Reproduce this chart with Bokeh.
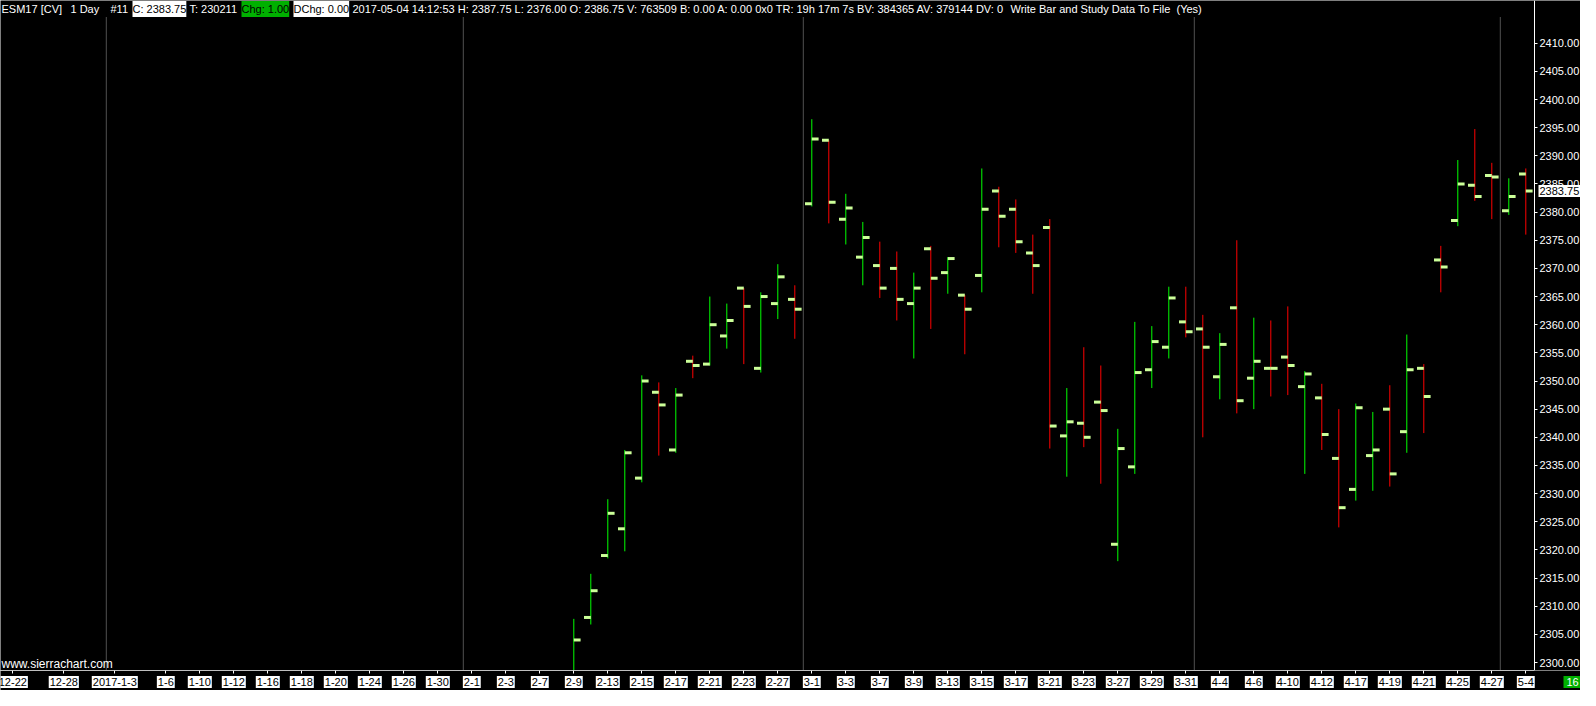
from bokeh.plotting import figure
from bokeh.layouts import column
from bokeh.models import (Range1d, FixedTicker, Label, ColumnDataSource,
                          PrintfTickFormatter, LinearAxis)
from bokeh.embed import file_html
from bokeh.resources import INLINE

# ---- data ---------------------------------------------------------------
sessions = [
    "2016-12-22", "2016-12-23", "2016-12-27", "2016-12-28", "2016-12-29", "2016-12-30",
    "2017-01-03", "2017-01-04", "2017-01-05", "2017-01-06", "2017-01-09", "2017-01-10",
    "2017-01-11", "2017-01-12", "2017-01-13", "2017-01-16", "2017-01-17", "2017-01-18",
    "2017-01-19", "2017-01-20", "2017-01-23", "2017-01-24", "2017-01-25", "2017-01-26",
    "2017-01-27", "2017-01-30", "2017-01-31",
    "2017-02-01", "2017-02-02", "2017-02-03", "2017-02-06", "2017-02-07", "2017-02-08",
    "2017-02-09", "2017-02-10", "2017-02-13", "2017-02-14", "2017-02-15", "2017-02-16",
    "2017-02-17", "2017-02-20", "2017-02-21", "2017-02-22", "2017-02-23", "2017-02-24",
    "2017-02-27", "2017-02-28",
    "2017-03-01", "2017-03-02", "2017-03-03", "2017-03-06", "2017-03-07", "2017-03-08",
    "2017-03-09", "2017-03-10", "2017-03-13", "2017-03-14", "2017-03-15", "2017-03-16",
    "2017-03-17", "2017-03-20", "2017-03-21", "2017-03-22", "2017-03-23", "2017-03-24",
    "2017-03-27", "2017-03-28", "2017-03-29", "2017-03-30", "2017-03-31",
    "2017-04-03", "2017-04-04", "2017-04-05", "2017-04-06", "2017-04-07", "2017-04-10",
    "2017-04-11", "2017-04-12", "2017-04-13", "2017-04-17", "2017-04-18", "2017-04-19",
    "2017-04-20", "2017-04-21", "2017-04-24", "2017-04-25", "2017-04-26", "2017-04-27",
    "2017-05-03", "2017-05-04",
]
first_bar = "2017-02-09"

opens = [2295.0, 2308.0, 2319.0, 2323.75, 2332.75, 2348.0, 2337.75, 2353.5, 2353.0, 2358.0,
         2366.5, 2352.25, 2363.75, 2364.5,
         2381.5, 2392.75, 2378.75, 2372.0, 2370.5, 2370.0, 2363.75, 2373.5, 2369.25, 2365.25,
         2368.75, 2383.75, 2380.5, 2372.75, 2377.25, 2340.25, 2342.5, 2346.25, 2321.0, 2334.75,
         2352.0, 2356.0, 2360.5,
         2359.25, 2350.75, 2363.0, 2350.5, 2352.25, 2354.25, 2349.0, 2347.0, 2336.25, 2330.75,
         2336.75, 2345.0, 2341.0, 2352.25, 2371.5, 2378.5, 2384.75, 2386.5,
         2380.25, 2386.75]
highs = [2307.75, 2315.75, 2329.0, 2337.75, 2351.0, 2349.75, 2348.75, 2354.5, 2365.0, 2363.75,
         2366.5, 2365.75, 2370.75, 2367.0,
         2396.5, 2392.75, 2383.25, 2378.25, 2374.75, 2373.0, 2369.25, 2374.0, 2372.0, 2365.25,
         2387.75, 2384.5, 2382.25, 2376.0, 2378.75, 2348.75, 2356.0, 2352.75, 2341.5, 2360.5,
         2359.75, 2366.75, 2366.75,
         2361.75, 2358.5, 2375.0, 2361.25, 2360.75, 2363.25, 2351.75, 2349.5, 2345.0, 2346.0,
         2344.5, 2349.25, 2358.25, 2353.0, 2374.0, 2389.25, 2394.75, 2388.75,
         2386.0, 2387.75]
lows = [2293.0, 2306.75, 2318.5, 2319.75, 2332.0, 2336.75, 2337.25, 2350.5, 2352.75, 2355.75,
        2353.0, 2351.5, 2361.0, 2357.5,
        2381.0, 2378.0, 2374.25, 2367.0, 2364.75, 2360.75, 2354.0, 2359.25, 2365.5, 2354.75,
        2365.75, 2373.75, 2372.75, 2365.5, 2338.0, 2333.0, 2338.25, 2331.75, 2318.0, 2333.5,
        2348.75, 2354.0, 2357.75,
        2340.0, 2346.75, 2344.25, 2345.0, 2347.25, 2347.5, 2333.5, 2337.75, 2324.0, 2328.75,
        2330.5, 2331.25, 2337.25, 2340.75, 2365.75, 2377.5, 2382.0, 2378.75,
        2379.5, 2376.0]
closes = [2304.0, 2312.75, 2326.5, 2337.25, 2350.0, 2345.75, 2347.5, 2352.75, 2360.0, 2360.75,
          2363.25, 2365.0, 2368.5, 2362.75,
          2393.0, 2381.75, 2380.75, 2375.5, 2366.5, 2364.5, 2366.5, 2368.25, 2371.75, 2362.75,
          2380.5, 2379.25, 2374.75, 2370.5, 2342.0, 2342.75, 2340.0, 2344.75, 2338.0, 2351.5,
          2357.0, 2364.75, 2358.75,
          2356.0, 2356.5, 2346.5, 2353.5, 2352.25, 2352.75, 2351.25, 2340.5, 2327.5, 2345.25,
          2337.75, 2333.5, 2352.0, 2347.25, 2370.25, 2385.0, 2382.75, 2386.25,
          2382.75, 2383.75]

label_dates = ["2016-12-22", "2016-12-28", "2017-01-03", "2017-01-06", "2017-01-10", "2017-01-12",
               "2017-01-16", "2017-01-18", "2017-01-20", "2017-01-24", "2017-01-26", "2017-01-30",
               "2017-02-01", "2017-02-03", "2017-02-07", "2017-02-09", "2017-02-13", "2017-02-15",
               "2017-02-17", "2017-02-21", "2017-02-23", "2017-02-27", "2017-03-01", "2017-03-03",
               "2017-03-07", "2017-03-09", "2017-03-13", "2017-03-15", "2017-03-17", "2017-03-21",
               "2017-03-23", "2017-03-27", "2017-03-29", "2017-03-31", "2017-04-04", "2017-04-06",
               "2017-04-10", "2017-04-12", "2017-04-17", "2017-04-19", "2017-04-21", "2017-04-25",
               "2017-04-27", "2017-05-04"]
label_texts = ["12-22", "12-28", "2017-1-3", "1-6", "1-10", "1-12", "1-16", "1-18", "1-20", "1-24",
               "1-26", "1-30", "2-1", "2-3", "2-7", "2-9", "2-13", "2-15", "2-17", "2-21", "2-23",
               "2-27", "3-1", "3-3", "3-7", "3-9", "3-13", "3-15", "3-17", "3-21", "3-23", "3-27",
               "3-29", "3-31", "4-4", "4-6", "4-10", "4-12", "4-17", "4-19", "4-21", "4-25", "4-27",
               "5-4"]

price_ticks = [2300, 2305, 2310, 2315, 2320, 2325, 2330, 2335, 2340, 2345, 2350, 2355,
               2360, 2365, 2370, 2375, 2380, 2385, 2390, 2395, 2400, 2405, 2410]

header_parts = [
    ("ESM17 [CV]", 1, "white", None),
    ("1 Day", 70, "white", None),
    ("#11", 110, "white", None),
    ("C: 2383.75", 132, "black", "white"),
    ("T: 230211", 189, "white", None),
    ("Chg: 1.00", 241, "black", "#00b000"),
    ("DChg: 0.00", 293, "black", "white"),
    ("2017-05-04 14:12:53 H: 2387.75 L: 2376.00 O: 2386.75 V: 763509 B: 0.00 A: 0.00 0x0 "
     "TR: 19h 17m 7s BV: 384365 AV: 379144 DV: 0", 352, "white", None),
    ("Write Bar and Study Data To File", 1010, "white", None),
    ("(Yes)", 1176, "white", None),
]
bar_count_text = "16"
site_text = "www.sierrachart.com"

# ---- view / layout settings (pixels) -------------------------------------
FONT = "Liberation Sans"
W = 1580
MAIN_H, STRIP_H, HEAD = 670, 20, 17
CHART_W = 1534                 # price scale line position
PX_BAR, PX_PT = 17.0, 5.63     # horizontal / vertical scale
FIRST_SLOT_PX = 12.3           # position of the first slot centre
TOP_PRICE, TOP_PRICE_PX = 2410.0, 42.7
TICK_COL = "#ccff99"

cx0 = -FIRST_SLOT_PX / PX_BAR
cx1 = cx0 + CHART_W / PX_BAR
x_end = cx0 + W / PX_BAR
y_end = TOP_PRICE + TOP_PRICE_PX / PX_PT
cy0 = y_end - MAIN_H / PX_PT
cy1 = y_end - HEAD / PX_PT

xr = Range1d(cx0, x_end)

p = figure(frame_width=W, frame_height=MAIN_H,
           x_range=xr, y_range=Range1d(cy0, y_end),
           output_backend="svg", toolbar_location=None,
           x_axis_location=None, y_axis_location=None,
           background_fill_color="black", border_fill_color="black",
           min_border=0, outline_line_color=None)
p.grid.visible = False

# price scale at the right edge of the chart
ya = LinearAxis(fixed_location=cx1, bounds=(cy0, y_end),
                ticker=FixedTicker(ticks=price_ticks),
                formatter=PrintfTickFormatter(format="%.2f"))
ya.axis_line_color = "white"
ya.major_tick_line_color = "white"
ya.major_tick_out = 3
ya.major_tick_in = 0
ya.minor_tick_line_color = None
ya.major_label_standoff = 2
ya.major_label_text_color = "white"
ya.major_label_text_font = FONT
ya.major_label_text_font_size = "11px"
p.add_layout(ya, "right")

idx_of = {d: i for i, d in enumerate(sessions)}

# month separators (dotted)
sep_x = [i - 0.5 for i in range(1, len(sessions)) if sessions[i][:7] != sessions[i - 1][:7]]
p.segment(x0=sep_x, y0=[cy0] * len(sep_x), x1=sep_x, y1=[cy1] * len(sep_x),
          line_color="#a0a0a0", line_dash="1 1", line_width=1)

# OHLC bars
start = idx_of[first_bar]
xs = list(range(start, start + len(opens)))
colors = ["#00ff00" if c > o else "#ff0000" for o, c in zip(opens, closes)]
src = ColumnDataSource(dict(x=xs, xl=[x - 0.4 for x in xs], xr=[x + 0.4 for x in xs],
                            o=opens, h=highs, l=lows, c=closes, col=colors))
p.segment(x0="x", y0="l", x1="x", y1="h", line_color="col", line_width=1, source=src)
p.segment(x0="xl", y0="o", x1="x", y1="o", line_color=TICK_COL, line_width=3,
          line_cap="butt", source=src)
p.segment(x0="x", y0="c", x1="xr", y1="c", line_color=TICK_COL, line_width=3,
          line_cap="butt", source=src)

# last price marker on the price scale
p.add_layout(Label(x=cx1, x_offset=4, y=closes[-1], x_units="data", y_units="data",
                   text="%.2f" % closes[-1], text_color="black", text_font=FONT,
                   text_font_size="11px", text_align="left", text_baseline="middle",
                   background_fill_color="white", padding=(1, 2)))

# header line
for text, x, col, bg in header_parts:
    p.add_layout(Label(x=x, y=MAIN_H - 8.5, x_units="screen", y_units="screen", text=text,
                       text_color=col, text_font=FONT, text_font_size="11px",
                       text_align="left", text_baseline="middle",
                       background_fill_color=bg, padding=(0, 2)))

# watermark
p.add_layout(Label(x=1, y=7, x_units="screen", y_units="screen", text=site_text,
                   text_color="white", text_font=FONT, text_font_size="12px",
                   text_align="left", text_baseline="middle"))

# ---- time scale strip ----------------------------------------------------
s = figure(frame_width=W, frame_height=STRIP_H, x_range=xr, y_range=Range1d(0, STRIP_H),
           output_backend="svg", toolbar_location=None,
           x_axis_location=None, y_axis_location=None,
           background_fill_color="black", border_fill_color="black",
           min_border=0, outline_line_color=None)
s.grid.visible = False

label_x = [idx_of[d] for d in label_dates]
xa = LinearAxis(fixed_location=STRIP_H, bounds=(cx0, cx1), ticker=FixedTicker(ticks=label_x))
xa.axis_line_color = "white"
xa.major_tick_line_color = "white"
xa.major_tick_out = 3
xa.major_tick_in = 0
xa.minor_tick_line_color = None
xa.major_label_text_font_size = "1px"
xa.major_label_text_alpha = 0
xa.major_label_standoff = 0
s.add_layout(xa, "below")

for x, t in zip(label_x, label_texts):
    s.add_layout(Label(x=x, y=STRIP_H - 11.5, x_units="data", y_units="screen", text=t,
                       text_color="black", text_font=FONT, text_font_size="11px",
                       text_align="center", text_baseline="middle",
                       background_fill_color="white", padding=(1, 2)))

s.add_layout(Label(x=CHART_W + 29, y=STRIP_H - 11.5, x_units="screen", y_units="screen",
                   text=bar_count_text, text_color="white", text_font=FONT,
                   text_font_size="11px", text_align="left", text_baseline="middle",
                   background_fill_color="#00b000", padding=(3, 2)))

layout = column(p, s, spacing=0)
open("out.html", "w").write(file_html(layout, INLINE))
